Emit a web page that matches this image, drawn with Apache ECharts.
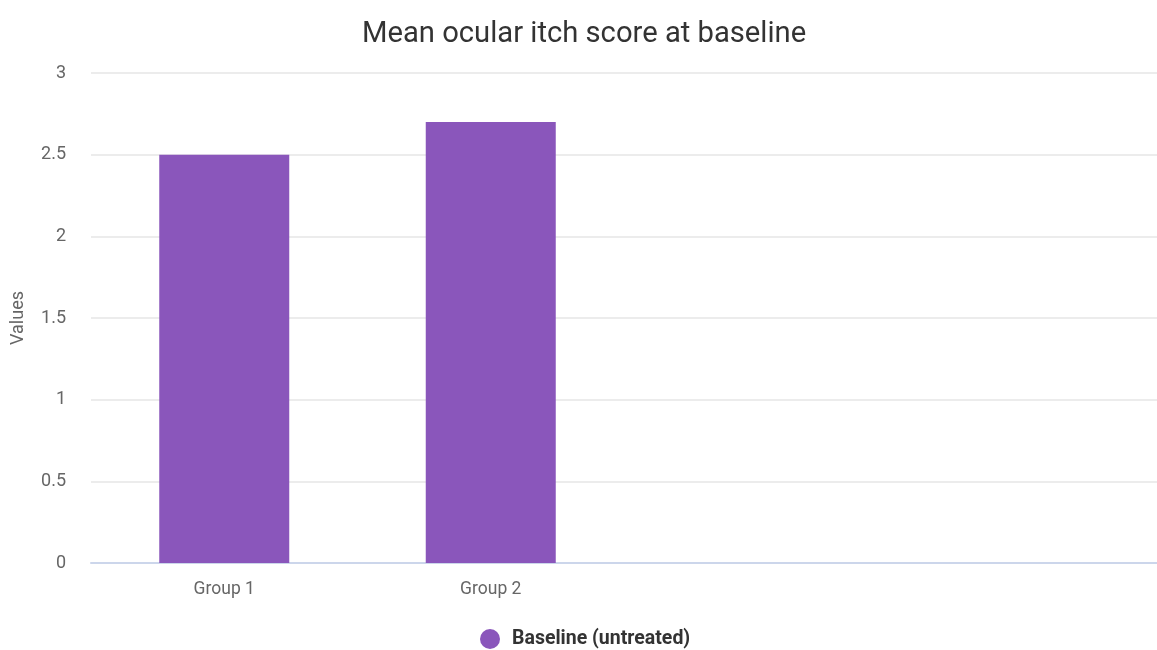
<!DOCTYPE html>
<html>
<head>
<meta charset="utf-8">
<script src="https://cdn.jsdelivr.net/npm/echarts@6/dist/echarts.min.js"></script>
<style>
  html, body { margin: 0; padding: 0; background: #fff; }
  #chart { width: 1157px; height: 650px; }
</style>
</head>
<body>
<div id="chart"></div>
<script>
// Category slots: two labelled groups followed by two empty slots
const categories = ["Group 1", "Group 2", "", ""];
const baselineValues = [2.5, 2.7, null, null];
const seriesName = "Baseline (untreated)";
const yTicks = { min: 0, max: 3, interval: 0.5 };

const chart = echarts.init(document.getElementById("chart"));
chart.setOption({
  backgroundColor: "#ffffff",
  textStyle: { fontFamily: "Roboto" },
  title: {
    text: "Mean ocular itch score at baseline",
    left: 357,
    top: 15,
    textStyle: { fontSize: 29.2, fontWeight: "normal", color: "#333333", fontFamily: "Roboto" }
  },
  legend: {
    top: 624,
    left: 475,
    icon: "circle",
    itemWidth: 20,
    itemHeight: 20,
    textStyle: {
      fontSize: 19.5, fontWeight: "bold", color: "#333333", fontFamily: "Roboto",
      padding: [0, 0, 0, 7]
    },
    data: [seriesName]
  },
  // plot area runs slightly past the right edge of the canvas
  grid: { left: 91, width: 1072, top: 73, bottom: 87, containLabel: false },
  xAxis: {
    type: "category",
    data: categories,
    axisLine: { lineStyle: { color: "#ccd6eb", width: 2 } },
    axisTick: { show: false },
    axisLabel: { color: "#666666", fontSize: 17.5, margin: 18 },
    splitLine: { show: false }
  },
  yAxis: {
    type: "value",
    min: yTicks.min,
    max: yTicks.max,
    interval: yTicks.interval,
    name: "Values",
    nameLocation: "middle",
    nameGap: 64,
    nameTextStyle: { color: "#666666", fontSize: 18 },
    axisLine: { show: false },
    axisTick: { show: false },
    axisLabel: { color: "#666666", fontSize: 18, margin: 25 },
    splitLine: { lineStyle: { color: "#e6e6e6", width: 1.5 } }
  },
  series: [{
    name: seriesName,
    type: "bar",
    data: baselineValues,
    barWidth: 130,
    itemStyle: { color: "#8a56bb" }
  }]
});
</script>
</body>
</html>
